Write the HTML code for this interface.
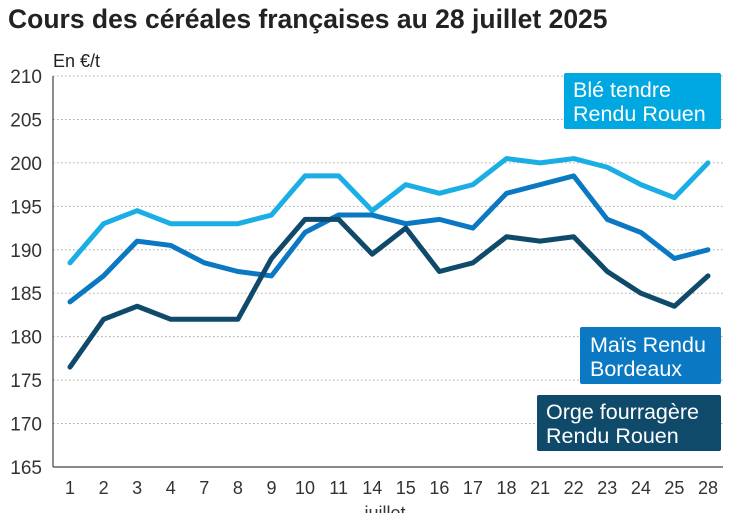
<!DOCTYPE html>
<html><head><meta charset="utf-8"><style>
body{margin:0;background:#fff;width:747px;height:513px;overflow:hidden;font-family:"Liberation Sans",sans-serif}
svg{display:block}
</style></head><body>
<svg width="747" height="513">
<text x="8" y="28" font-size="26.5" font-weight="bold" fill="#222">Cours des céréales françaises au 28 juillet 2025</text>
<text x="53" y="67" font-size="18" fill="#222">En €/t</text>
<g id="grid"></g><g id="lines"></g><g id="ticks"></g>
<line x1="53" y1="76" x2="53" y2="467" stroke="#444" stroke-width="1.2"/>
<line x1="53" y1="467" x2="723" y2="467" stroke="#444" stroke-width="1.2"/>
<text x="385" y="519" font-size="18" fill="#333" text-anchor="middle">juillet</text>
<g><rect x="564" y="73" width="157" height="56" rx="2" fill="#00a8e1"/><text x="573" y="97" font-size="21.5" fill="#fff">Blé tendre</text><text x="573" y="121" font-size="21.5" fill="#fff">Rendu Rouen</text></g>
<g><rect x="580" y="327" width="141" height="57" rx="2" fill="#0a78c2"/><text x="590" y="352" font-size="21.5" fill="#fff">Maïs Rendu</text><text x="590" y="376" font-size="21.5" fill="#fff">Bordeaux</text></g>
<g><rect x="537" y="395" width="184" height="56" rx="2" fill="#0f4a6b"/><text x="546" y="419" font-size="21.5" fill="#fff">Orge fourragère</text><text x="546" y="443" font-size="21.5" fill="#fff">Rendu Rouen</text></g>
</svg>
<script>
const categories=["1","2","3","4","7","8","9","10","11","14","15","16","17","18","21","22","23","24","25","28"];
const ble=[188.5,193,194.5,193,193,193,194,198.5,198.5,194.5,197.5,196.5,197.5,200.5,200,200.5,199.5,197.5,196,200];
const mais=[184,187,191,190.5,188.5,187.5,187,192,194,194,193,193.5,192.5,196.5,197.5,198.5,193.5,192,189,190];
const orge=[176.5,182,183.5,182,182,182,189,193.5,193.5,189.5,192.5,187.5,188.5,191.5,191,191.5,187.5,185,183.5,187];
const yTicks=[165,170,175,180,185,190,195,200,205,210];
const NS="http://www.w3.org/2000/svg";
const y=v=>467-(v-165)*(391/45);
const x=i=>70+i*(638/(categories.length-1));
const grid=document.getElementById('grid'),ticks=document.getElementById('ticks'),lines=document.getElementById('lines');
yTicks.forEach(t=>{
 if(t>165){const l=document.createElementNS(NS,'line');
 
 
 l.setAttribute('x1',53);l.setAttribute('x2',723);l.setAttribute('y1',y(t));l.setAttribute('y2',y(t));
 l.setAttribute('stroke','#aaa');l.setAttribute('stroke-dasharray','1.5 2.5');grid.appendChild(l);}
 const tx=document.createElementNS(NS,'text');
 
 
 tx.setAttribute('x',42);tx.setAttribute('y',y(t)+7);tx.setAttribute('text-anchor','end');tx.setAttribute('font-size','19');tx.setAttribute('fill','#333');tx.textContent=t;ticks.appendChild(tx);
});
categories.forEach((c,i)=>{
 const tx=document.createElementNS(NS,'text');
 
 
 tx.setAttribute('x',x(i));tx.setAttribute('y',494);tx.setAttribute('text-anchor','middle');tx.setAttribute('font-size','18');tx.setAttribute('fill','#333');tx.textContent=c;ticks.appendChild(tx);
});
[[ble,'#1aaee4','line-ble'],[mais,'#0a78c2','line-mais'],[orge,'#0f4a6b','line-orge']].forEach(([d,col,n])=>{
 const p=document.createElementNS(NS,'polyline');
 
 
 p.setAttribute('points',d.map((v,i)=>x(i)+','+y(v)).join(' '));
 p.setAttribute('fill','none');p.setAttribute('stroke',col);p.setAttribute('stroke-width','5');p.setAttribute('stroke-linejoin','round');p.setAttribute('stroke-linecap','round');
 lines.appendChild(p);
});
</script>
</body></html>
